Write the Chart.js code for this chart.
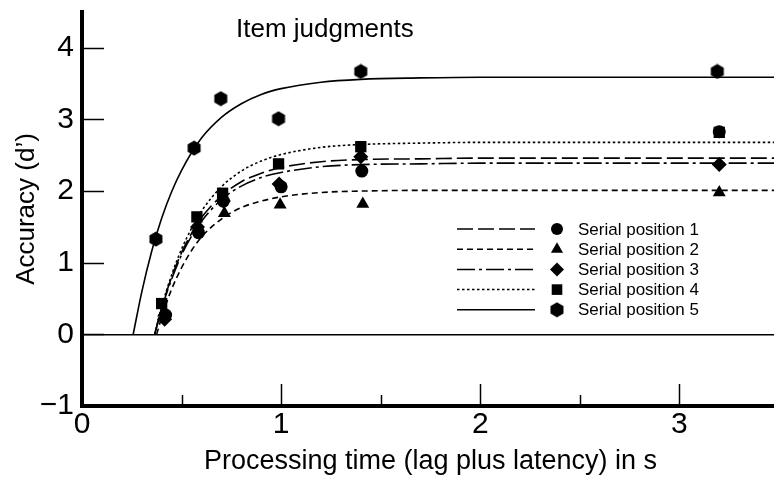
<!DOCTYPE html>
<html>
<head>
<meta charset="utf-8">
<script src="https://cdn.jsdelivr.net/npm/chart.js@4.4.1/dist/chart.umd.min.js"></script>
<style>
  html, body { margin: 0; padding: 0; overflow: hidden; background: #fff; }
  #wrap { position: relative; width: 787px; height: 478px; }
</style>
</head>
<body>
<div id="wrap"><canvas id="chart"></canvas></div>
<script>
// Etichete serii
var seriesLabels = ['Serial position 1', 'Serial position 2', 'Serial position 3', 'Serial position 4', 'Serial position 5'];

// Puncte masurate (x = timp de procesare in s, y = d')
var pointsX1 = [0.42, 0.585, 0.71, 1.0, 1.405, 3.2];
var pointsY1 = [0.27, 1.42, 1.86, 2.06, 2.28, 2.83];
var pointsX2 = [0.41, 0.58, 0.715, 0.995, 1.41, 3.2];
var pointsY2 = [0.30, 1.53, 1.69, 1.81, 1.82, 1.98];
var pointsX3 = [0.415, 0.58, 0.71, 0.99, 1.4, 3.2];
var pointsY3 = [0.21, 1.50, 1.86, 2.10, 2.48, 2.37];
var pointsX4 = [0.40, 0.577, 0.706, 0.987, 1.4, 3.2];
var pointsY4 = [0.43, 1.64, 1.97, 2.38, 2.62, 2.82];
var pointsX5 = [0.371, 0.563, 0.697, 0.987, 1.4, 3.19];
var pointsY5 = [1.33, 2.60, 3.29, 3.01, 3.67, 3.67];

// Curbele ajustate
var curveX1 = [0.365, 0.4, 0.45, 0.5, 0.55, 0.6, 0.7, 0.8, 0.9, 1.0, 1.2, 1.4, 1.7, 2.0, 2.5, 3.5];
var curveY1 = [0, 0.37, 0.80, 1.14, 1.41, 1.63, 1.93, 2.13, 2.25, 2.33, 2.41, 2.44, 2.45, 2.46, 2.46, 2.46];
var curveX2 = [0.375, 0.4, 0.45, 0.5, 0.55, 0.6, 0.7, 0.8, 0.9, 1.0, 1.2, 1.4, 1.7, 2.0, 2.5, 3.5];
var curveY2 = [0, 0.24, 0.63, 0.93, 1.17, 1.36, 1.61, 1.77, 1.86, 1.92, 1.98, 2.00, 2.01, 2.01, 2.01, 2.01];
var curveX3 = [0.365, 0.4, 0.45, 0.5, 0.55, 0.6, 0.7, 0.8, 0.9, 1.0, 1.2, 1.4, 1.7, 2.0, 2.5, 3.5];
var curveY3 = [0, 0.36, 0.77, 1.11, 1.37, 1.58, 1.88, 2.07, 2.19, 2.26, 2.34, 2.37, 2.38, 2.39, 2.39, 2.39];
var curveX4 = [0.365, 0.4, 0.45, 0.5, 0.55, 0.6, 0.7, 0.8, 0.9, 1.0, 1.2, 1.4, 1.7, 2.0, 2.5, 3.5];
var curveY4 = [0, 0.38, 0.83, 1.19, 1.48, 1.72, 2.06, 2.28, 2.42, 2.51, 2.61, 2.65, 2.67, 2.68, 2.68, 2.68];
var curveX5 = [0.257, 0.3, 0.35, 0.4, 0.45, 0.5, 0.6, 0.7, 0.8, 0.9, 1.0, 1.2, 1.4, 1.7, 2.0, 2.5, 3.5];
var curveY5 = [0, 0.59, 1.16, 1.62, 1.99, 2.29, 2.74, 3.03, 3.22, 3.35, 3.43, 3.52, 3.56, 3.58, 3.59, 3.59, 3.59];

// Axe
var xMin = 0, xMax = 3.5, xStep = 0.5;
var yMin = -1, yMax = 4.5, yStep = 0.5;

var FONT = '"Liberation Sans", Arial, Helvetica, sans-serif';

// Hexagon pentru pozitia 5 (Chart.js nu are stilul asta)
function makeHexagon(r) {
    var s = 16;
    var c = document.createElement('canvas');
    c.width = s; c.height = s;
    var g = c.getContext('2d');
    g.fillStyle = '#000';
    g.beginPath();
    for (var i = 0; i < 6; i++) {
        var a = Math.PI / 2 + i * Math.PI / 3;
        var px = s / 2 + r * Math.cos(a), py = s / 2 + r * Math.sin(a);
        if (i === 0) g.moveTo(px, py); else g.lineTo(px, py);
    }
    g.closePath();
    g.fill();
    return c;
}
var hexagon = makeHexagon(7.5);

var pointStyles = ['circle', 'triangle', 'rectRot', 'rect', hexagon];
var pointRadii = [6.5, 7.5, 7.5, 8, 7.5];
var dashes = [[16, 5], [6, 4], [18, 4, 3, 4], [2.5, 2.5], []];

var pointsX = [pointsX1, pointsX2, pointsX3, pointsX4, pointsX5];
var pointsY = [pointsY1, pointsY2, pointsY3, pointsY4, pointsY5];
var curvesX = [curveX1, curveX2, curveX3, curveX4, curveX5];
var curvesY = [curveY1, curveY2, curveY3, curveY4, curveY5];

function zip(xs, ys) {
    return xs.map(function (x, i) { return { x: x, y: ys[i] }; });
}

var datasets = [];
// markerele primele -> desenate deasupra curbelor
seriesLabels.forEach(function (label, i) {
    datasets.push({
        label: label,
        data: zip(pointsX[i], pointsY[i]),
        pointStyle: pointStyles[i],
        pointRadius: pointRadii[i],
        pointBackgroundColor: '#000',
        pointBorderWidth: 0,
        showLine: false
    });
});
seriesLabels.forEach(function (label, i) {
    datasets.push({
        label: label + ' fit',
        data: zip(curvesX[i], curvesY[i]),
        showLine: true,
        borderColor: '#000',
        borderWidth: 1.6,
        borderDash: dashes[i],
        pointRadius: 0,
        fill: false,
        cubicInterpolationMode: 'monotone'
    });
});

function drawMarker(ctx, style, r, x, y) {
    if (typeof style !== 'string') {
        ctx.drawImage(style, x - style.width / 2, y - style.height / 2);
        return;
    }
    ctx.beginPath();
    if (style === 'circle') {
        ctx.arc(x, y, r, 0, Math.PI * 2);
    } else if (style === 'triangle') {
        ctx.moveTo(x, y - r);
        ctx.lineTo(x + r * 0.866, y + r * 0.5);
        ctx.lineTo(x - r * 0.866, y + r * 0.5);
    } else if (style === 'rectRot') {
        ctx.moveTo(x, y - r); ctx.lineTo(x + r, y); ctx.lineTo(x, y + r); ctx.lineTo(x - r, y);
    } else {
        var s = r * Math.SQRT1_2;
        ctx.rect(x - s, y - s, 2 * s, 2 * s);
    }
    ctx.closePath();
    ctx.fill();
}

// Tick-uri spre interior, titlul din grafic si legenda
var decorPlugin = {
    id: 'decor',
    afterDraw: function (chart) {
        var ctx = chart.ctx;
        var area = chart.chartArea;
        var xs = chart.scales.x, ys = chart.scales.y;
        ctx.save();
        ctx.strokeStyle = '#000';
        ctx.lineWidth = 1.5;
        ys.ticks.forEach(function (t) {
            var py = Math.round(ys.getPixelForValue(t.value)) + 0.5;
            var len = Number.isInteger(t.value) ? 22 : 10;
            ctx.beginPath();
            ctx.moveTo(area.left, py);
            ctx.lineTo(area.left + len, py);
            ctx.stroke();
        });
        xs.ticks.forEach(function (t) {
            if (t.value === 0) return;
            var px = Math.round(xs.getPixelForValue(t.value)) + 0.5;
            var len = Number.isInteger(t.value) ? 22 : 11;
            ctx.beginPath();
            ctx.moveTo(px, area.bottom);
            ctx.lineTo(px, area.bottom - len);
            ctx.stroke();
        });

        // titlul
        ctx.fillStyle = '#000';
        ctx.font = '26px ' + FONT;
        ctx.textAlign = 'left';
        ctx.textBaseline = 'alphabetic';
        ctx.fillText('Item judgments', 236, 37);

        // legenda
        ctx.font = '17px ' + FONT;
        ctx.textBaseline = 'middle';
        seriesLabels.forEach(function (label, i) {
            var ly = 229 + i * 20.2;
            ctx.setLineDash(dashes[i]);
            ctx.lineWidth = 1.5;
            ctx.beginPath();
            ctx.moveTo(457, ly);
            ctx.lineTo(535, ly);
            ctx.stroke();
            ctx.setLineDash([]);
            drawMarker(ctx, pointStyles[i], pointRadii[i] - 0.5, 557, ly);
            ctx.fillText(label, 578, ly + 1);
        });
        ctx.restore();
    }
};

new Chart(document.getElementById('chart'), {
    type: 'scatter',
    data: { datasets: datasets },
    plugins: [decorPlugin],
    options: {
        responsive: true,
        maintainAspectRatio: false,
        animation: false,
        events: [],
        layout: { padding: { top: 12, right: 1, left: 0, bottom: 0 } },
        plugins: {
            legend: { display: false },
            tooltip: { enabled: false }
        },
        scales: {
            x: {
                type: 'linear',
                min: xMin,
                max: xMax,
                afterFit: function (scale) {
                    scale.height = 72;
                    scale.paddingLeft = 0; scale.paddingRight = 0;
                },
                border: { display: true, width: 4, color: '#000' },
                grid: { color: 'rgba(0,0,0,0)', drawTicks: false },
                ticks: {
                    stepSize: xStep,
                    autoSkip: false,
                    maxRotation: 0,
                    padding: 4,
                    color: '#000',
                    font: { family: FONT, size: 30, lineHeight: 1 },
                    callback: function (v) { return Number.isInteger(v) ? String(v) : ''; }
                },
                title: {
                    display: true,
                    text: 'Processing time (lag plus latency) in s',
                    color: '#000',
                    font: { family: FONT, size: 27 },
                    padding: { top: 0, bottom: 0 }
                }
            },
            y: {
                type: 'linear',
                min: yMin,
                max: yMax,
                afterFit: function (scale) {
                    scale.width = 82;
                    scale.paddingTop = 0; scale.paddingBottom = 0;
                },
                border: { display: true, width: 4, color: '#000' },
                grid: {
                    drawTicks: false,
                    lineWidth: 1.5,
                    color: function (c) { return c.tick && c.tick.value === 0 ? '#000' : 'rgba(0,0,0,0)'; }
                },
                ticks: {
                    stepSize: yStep,
                    padding: 8,
                    color: '#000',
                    font: { family: FONT, size: 30 },
                    callback: function (v) {
                        if (!Number.isInteger(v)) return '';
                        return v < 0 ? '\u2212' + Math.abs(v) : String(v);
                    }
                },
                title: {
                    display: true,
                    text: 'Accuracy (d\u2019)',
                    color: '#000',
                    font: { family: FONT, size: 26 },
                    padding: { top: 11, bottom: 0 }
                }
            }
        }
    }
});
</script>
</body>
</html>
